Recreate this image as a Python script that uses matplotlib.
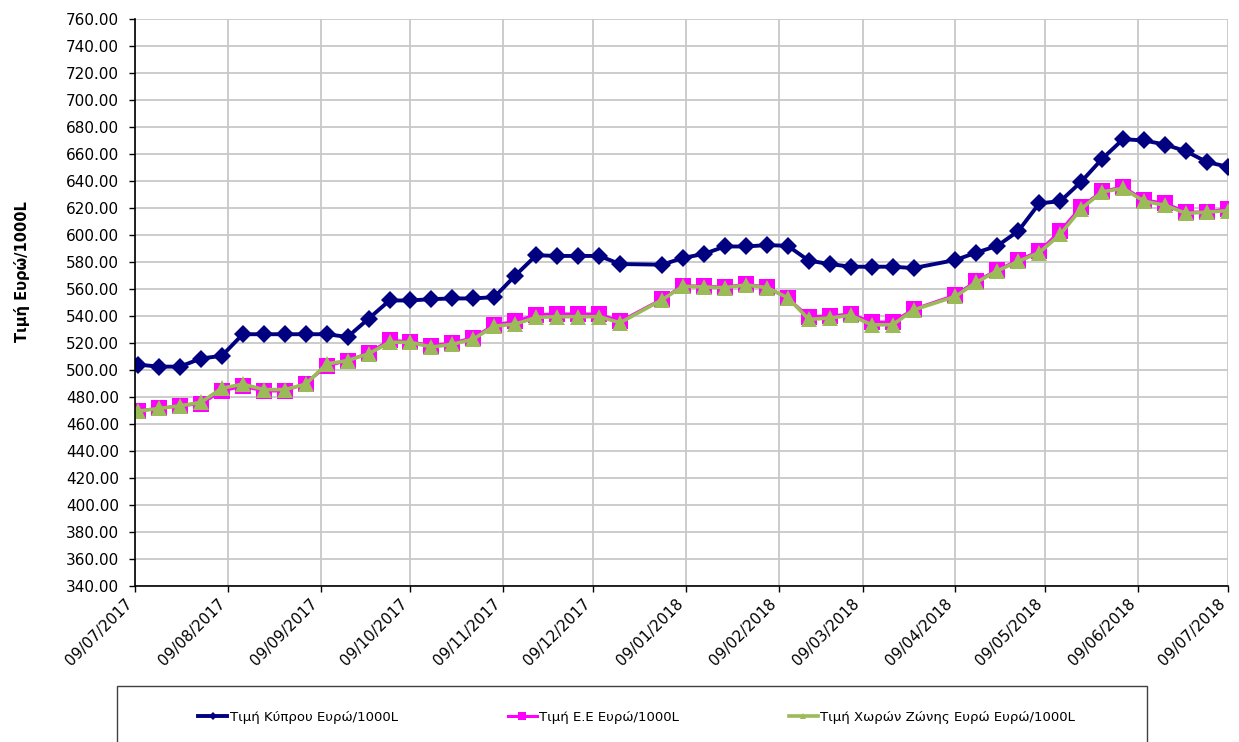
import pandas as pd
import matplotlib
matplotlib.use('Agg')
import matplotlib.pyplot as plt
import matplotlib.dates as mdates
from matplotlib.patches import Rectangle
from matplotlib.ticker import MultipleLocator, FormatStrFormatter

plt.rcParams['font.family'] = ['DejaVu Sans']

# weekly observations (no data on 25/12/2017 and 02/04/2018)
dates = [
    '2017-07-10', '2017-07-17', '2017-07-24', '2017-07-31', '2017-08-07', '2017-08-14',
    '2017-08-21', '2017-08-28', '2017-09-04', '2017-09-11', '2017-09-18', '2017-09-25',
    '2017-10-02', '2017-10-09', '2017-10-16', '2017-10-23', '2017-10-30', '2017-11-06',
    '2017-11-13', '2017-11-20', '2017-11-27', '2017-12-04', '2017-12-11', '2017-12-18',
    '2018-01-01', '2018-01-08', '2018-01-15', '2018-01-22', '2018-01-29', '2018-02-05',
    '2018-02-12', '2018-02-19', '2018-02-26', '2018-03-05', '2018-03-12', '2018-03-19',
    '2018-03-26', '2018-04-09', '2018-04-16', '2018-04-23', '2018-04-30', '2018-05-07',
    '2018-05-14', '2018-05-21', '2018-05-28', '2018-06-04', '2018-06-11', '2018-06-18',
    '2018-06-25', '2018-07-02', '2018-07-09',
]

cyprus = [
    504.0, 502.5, 502.5, 508.5, 510.5, 526.5, 526.5, 526.5, 526.5, 526.5, 524.5, 538.0,
    551.5, 551.5, 552.5, 553.0, 553.0, 554.0, 570.0, 585.0, 584.5, 584.5, 584.5, 578.5,
    578.0, 583.0, 586.0, 591.5, 591.5, 592.5, 592.0, 581.0, 578.5, 576.5, 576.5, 576.5,
    575.5, 581.5, 587.0, 592.0, 603.0, 623.5, 625.0, 639.5, 656.5, 671.0, 670.0, 667.0,
    662.0, 654.0, 650.5,
]

eu = [
    470.0, 471.5, 473.5, 475.0, 484.5, 488.0, 484.5, 484.5, 490.0, 503.0, 507.0, 512.5,
    522.0, 521.0, 518.0, 520.0, 524.0, 533.5, 536.0, 541.0, 541.5, 541.5, 541.5, 536.0,
    552.5, 562.5, 562.0, 561.5, 563.5, 561.5, 553.0, 539.5, 540.0, 541.5, 535.5, 535.5,
    545.0, 555.5, 566.0, 574.0, 581.5, 588.0, 603.0, 621.0, 632.5, 635.5, 626.0, 623.5,
    617.0, 617.0, 619.5,
]

eurozone = [
    469.5, 471.5, 473.5, 476.0, 486.5, 489.5, 485.5, 485.5, 489.5, 504.5, 507.0, 512.0,
    520.5, 520.5, 517.0, 519.0, 523.0, 532.5, 534.0, 539.0, 539.5, 539.5, 539.5, 535.0,
    552.0, 562.0, 561.5, 561.0, 563.0, 561.0, 553.5, 537.5, 538.5, 540.5, 533.5, 533.5,
    544.5, 554.5, 565.0, 573.5, 580.5, 587.0, 600.5, 619.5, 632.0, 634.5, 625.0, 622.0,
    616.0, 617.0, 618.0,
]

labels = ['Τιμή Κύπρου Ευρώ/1000L', 'Τιμή Ε.Ε Ευρώ/1000L',
          'Τιμή Χωρών Ζώνης Ευρώ Ευρώ/1000L']

df = pd.DataFrame({'date': pd.to_datetime(dates), 'cy': cyprus, 'eu': eu, 'ez': eurozone})

fig = plt.figure(figsize=(12.39, 7.42), dpi=100, facecolor='white')
ax = fig.add_axes([135 / 1239, 1 - 586 / 742, (1228 - 135) / 1239, (586 - 19) / 742])

ax.plot(df['date'], df['eu'], color='#FF00FF', linewidth=2.2, marker='s',
        markersize=12, markeredgewidth=0, label=labels[1], zorder=3)
ax.plot(df['date'], df['ez'], color='#9BBB59', linewidth=2.6, marker='^',
        markersize=11, markeredgewidth=0, label=labels[2], zorder=4)
ax.plot(df['date'], df['cy'], color='#000080', linewidth=2.8, marker='D',
        markersize=9, markeredgewidth=0, label=labels[0], zorder=5)

ax.set_ylim(340, 760)
ax.set_xlim(pd.Timestamp('2017-07-09'), pd.Timestamp('2018-07-09'))
ax.yaxis.set_major_locator(MultipleLocator(20))
ax.yaxis.set_major_formatter(FormatStrFormatter('%.2f'))
ax.xaxis.set_major_locator(mdates.MonthLocator(bymonthday=9))
ax.xaxis.set_major_formatter(mdates.DateFormatter('%d/%m/%Y'))

ax.grid(True, color='#c8c8c8', linewidth=1.3, zorder=0)
ax.set_axisbelow(True)
for side in ['top', 'right']:
    ax.spines[side].set_visible(False)
for side in ['left', 'bottom']:
    ax.spines[side].set_color('black')
    ax.spines[side].set_linewidth(1.2)
    ax.spines[side].set_zorder(6)

ax.tick_params(axis='both', colors='black', labelsize=11, length=4, width=1)
ax.tick_params(axis='y', pad=7.5)
plt.setp(ax.get_xticklabels(), rotation=45, ha='right')

fig.text(22 / 1239, 1 - 272 / 742, 'Τιμή Ευρώ/1000L', rotation=90, fontsize=10.5,
         fontweight='bold', ha='center', va='center')

# legend box (runs off the bottom of the image as in the original)
fig.patches.append(Rectangle((117 / 1239, -0.05), (1147 - 117) / 1239, 0.05 + 56 / 742,
                             transform=fig.transFigure, facecolor='white',
                             edgecolor='#404040', linewidth=1.0))
handles, labs = ax.get_legend_handles_labels()
order = [2, 0, 1]
fig.legend([handles[i] for i in order], [labs[i] for i in order], loc='center',
           bbox_to_anchor=(0.514, 1 - 717 / 742), ncol=3, frameon=False, fontsize=9.5,
           markerscale=0.45, handlelength=2.2, handletextpad=0.2, columnspacing=8.3)

fig.savefig('out.png', dpi=100, facecolor='white')
